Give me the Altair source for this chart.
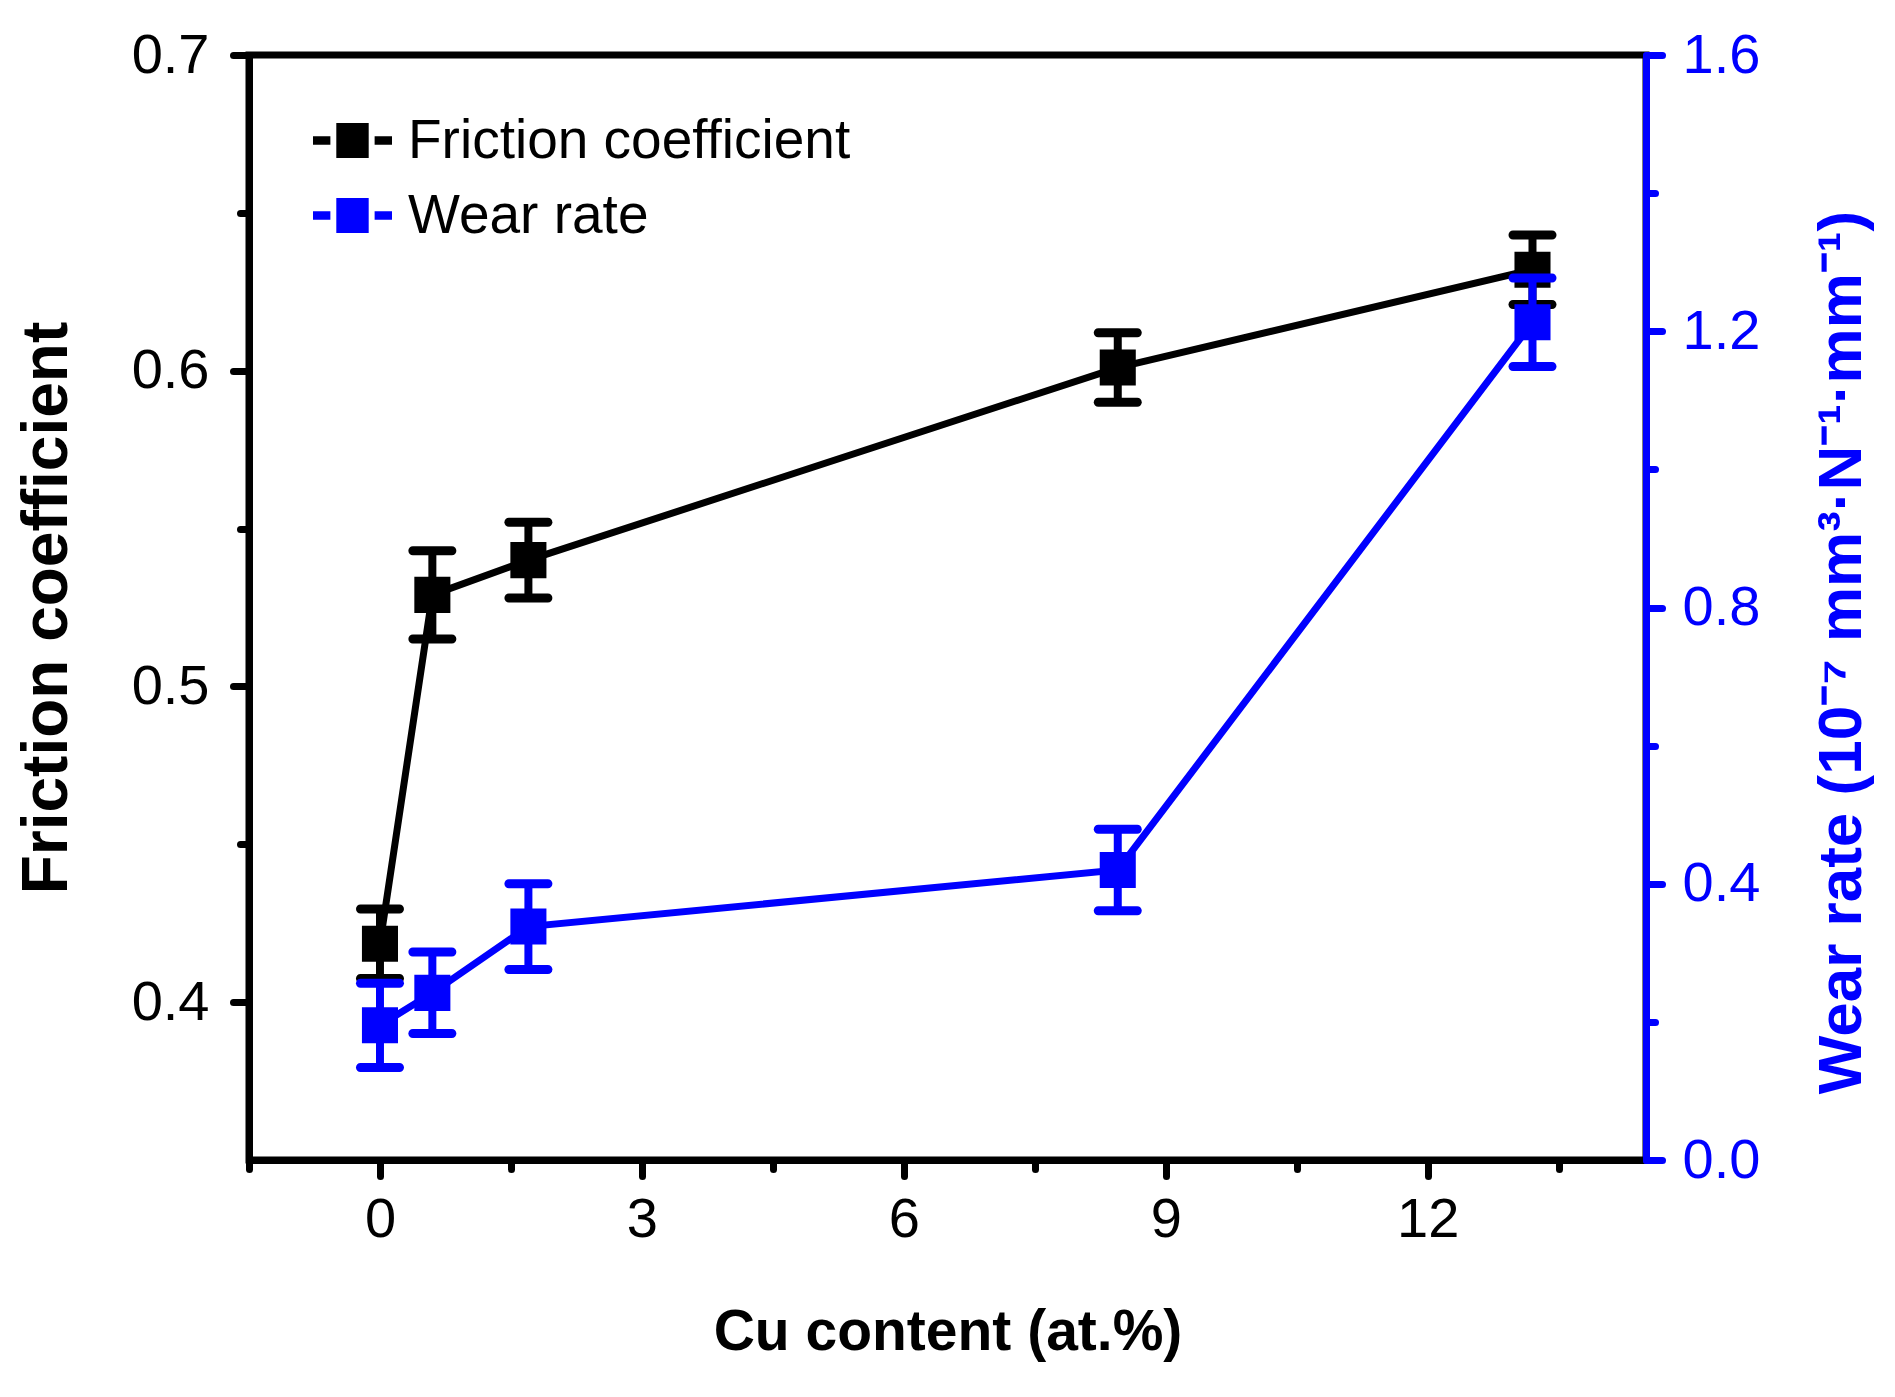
import altair as alt
import pandas as pd

# ---- data ----
cu = [0.0, 0.6, 1.7, 8.45, 13.2]
friction = [0.4185, 0.529, 0.540, 0.601, 0.632]
friction_err = [0.011, 0.014, 0.012, 0.011, 0.011]
wear = [0.195, 0.242, 0.338, 0.420, 1.213]
wear_err = [0.061, 0.059, 0.062, 0.059, 0.064]

x_ticks = [-1.5, 0, 1.5, 3, 4.5, 6, 7.5, 9, 10.5, 12, 13.5]
left_ticks = [0.4, 0.45, 0.5, 0.55, 0.6, 0.65, 0.7]
right_ticks = [0.0, 0.2, 0.4, 0.6, 0.8, 1.0, 1.2, 1.4, 1.6]
series = ["Friction coefficient", "Wear rate"]
colors = ["#000000", "#0000ff"]

x_title = "Cu content (at.%)"
left_title = "Friction coefficient"
right_title = "Wear rate (10\u207b\u2077 mm\u00b3\u00b7N\u207b\u00b9\u00b7mm\u207b\u00b9)"

FONT = "Liberation Sans, Arial, Helvetica"

df_f = pd.DataFrame({"cu": cu, "v": friction, "e": friction_err, "series": series[0]})
df_w = pd.DataFrame({"cu": cu, "v": wear, "e": wear_err, "series": series[1]})

common_axis = dict(
    grid=False,
    domainWidth=7,
    tickWidth=7,
    tickCap="round",
    domainCap="round",
    labelFont=FONT,
    labelFontSize=56,
    labelFontWeight="normal",
    labelLimit=0,
    titleLimit=0,
)

x_axis = alt.Axis(
    values=x_ticks,
    labelExpr="datum.value % 3 == 0 ? datum.label : ''",
    tickSize={"condition": {"test": "datum.value % 3 == 0", "value": 16}, "value": 9},
    domainColor="black",
    tickColor="black",
    labelColor="black",
    labelPadding=16,
    titleFont=FONT,
    titleFontSize=57,
    titleFontWeight="bold",
    titlePadding=57,
    titleColor="black",
    **common_axis,
)

major_l = "abs(round(datum.value*10) - datum.value*10) < 0.001"
left_axis = alt.Axis(
    values=left_ticks,
    labelExpr=f"{major_l} ? format(datum.value, '.1f') : ''",
    tickSize={"condition": {"test": major_l, "value": 16}, "value": 9},
    domainColor="black",
    tickColor="black",
    labelColor="black",
    labelPadding=24,
    titleFont=FONT,
    titleFontSize=64,
    titleFontWeight="bold",
    titlePadding=52,
    titleColor="black",
    **common_axis,
)

major_r = "abs(round(datum.value/0.4) - datum.value/0.4) < 0.001"
right_axis = alt.Axis(
    orient="right",
    values=right_ticks,
    labelExpr=f"{major_r} ? format(datum.value, '.1f') : ''",
    tickSize={"condition": {"test": major_r, "value": 16}, "value": 9},
    domainColor="#0000ff",
    tickColor="#0000ff",
    labelColor="#0000ff",
    labelPadding=20,
    titleFont=FONT,
    titleFontSize=62,
    titleFontWeight="bold",
    titleAngle=270,
    titleBaseline="top",
    titlePadding=52,
    titleY=597,
    titleColor="#0000ff",
    **common_axis,
)

x_scale = alt.Scale(domain=[-1.5, 14.5], nice=False, zero=False)
x_enc = alt.X("cu:Q", scale=x_scale, axis=x_axis, title=x_title)

legend_path = (
    "M-1,-0.11L-0.56,-0.11L-0.56,0.11L-1,0.11Z "
    "M-0.41,-0.44L0.41,-0.44L0.41,0.44L-0.41,0.44Z "
    "M0.56,-0.11L1,-0.11L1,0.11L0.56,0.11Z"
)
legend = alt.Legend(
    orient="none",
    legendX=64,
    legendY=46,
    title=None,
    symbolType=legend_path,
    symbolSize=6241,
    symbolStrokeWidth=0,
    symbolOpacity=1,
    labelFont=FONT,
    labelFontSize=55,
    labelOffset=16,
    labelLimit=0,
    rowPadding=7,
    labelColor="black",
)
color_enc = alt.Color(
    "series:N", scale=alt.Scale(domain=series, range=colors), legend=legend
)


def build(df, color, y_scale, y_axis, title):
    base = alt.Chart(df).transform_calculate(
        lo="datum.v - datum.e", hi="datum.v + datum.e"
    )
    y = alt.Y("v:Q", scale=y_scale, axis=y_axis, title=title)
    y_lo = alt.Y("lo:Q", scale=y_scale, axis=y_axis, title=title)
    y_hi = alt.Y("hi:Q", scale=y_scale, axis=y_axis, title=title)
    line = base.mark_line(color=color, strokeWidth=7).encode(x=x_enc, y=y)
    rule = base.mark_rule(color=color, strokeWidth=8).encode(
        x=x_enc, y=y_lo, y2="hi:Q"
    )
    cap_lo = base.mark_tick(
        color=color, orient="horizontal", size=48, thickness=9, cornerRadius=4.5, opacity=1
    ).encode(x=x_enc, y=y_lo)
    cap_hi = base.mark_tick(
        color=color, orient="horizontal", size=48, thickness=9, cornerRadius=4.5, opacity=1
    ).encode(x=x_enc, y=y_hi)
    pts = base.mark_point(
        shape="square", filled=True, size=1300, opacity=1, strokeWidth=0
    ).encode(x=x_enc, y=y, color=color_enc)
    return alt.layer(line, rule, cap_lo, cap_hi, pts)


fric = build(
    df_f,
    "#000000",
    alt.Scale(domain=[0.35, 0.7], nice=False, zero=False),
    left_axis,
    left_title,
)
wr = build(
    df_w,
    "#0000ff",
    alt.Scale(domain=[0.0, 1.6], nice=False, zero=False),
    right_axis,
    right_title,
)

chart = (
    alt.layer(fric, wr)
    .resolve_scale(y="independent", color="shared")
    .properties(
        width=1397,
        height=1105,
        autosize=alt.AutoSizeParams(type="none"),
        padding={"left": 241, "top": 47, "right": 241, "bottom": 229},
        background="white",
    )
    .configure_view(stroke="black", strokeWidth=7)
)

chart.save("out.html", embed_options={"renderer": "svg", "actions": False})
